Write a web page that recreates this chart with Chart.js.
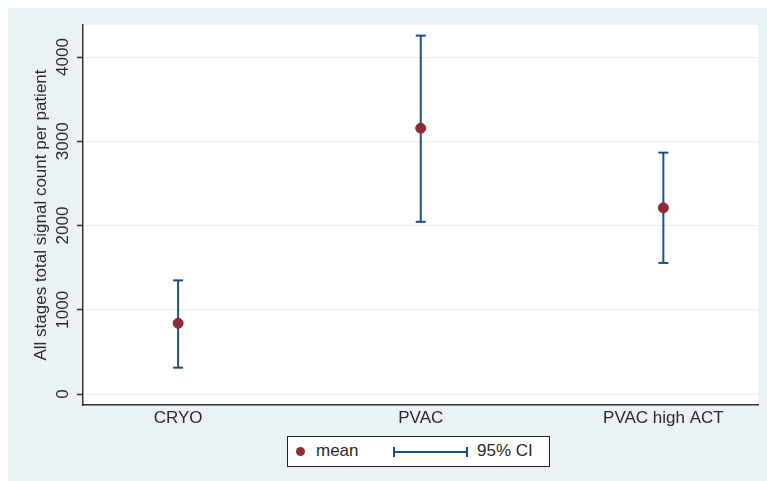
<!DOCTYPE html>
<html>
<head>
<meta charset="utf-8">
<script src="https://cdn.jsdelivr.net/npm/chart.js@4.4.1/dist/chart.umd.min.js"></script>
<style>
  body { margin: 0; background: #fff; font-family: "Liberation Sans", Arial, sans-serif; }
  #wrap { position: absolute; left: 8px; top: 8px; width: 759px; height: 473px; background: #eaf2f3; }
  #legend {
    position: absolute; left: 279px; top: 428px; width: 261px; height: 29px;
    background: #fff; border: 1px solid #222; font-size: 17px; color: #2a2a2a;
  }
  #legend .dot { position: absolute; left: 8px; top: 10px; width: 9px; height: 9px; border-radius: 50%; background: #8f2a36; }
  #legend .lbl { position: absolute; top: 4px; }
  #legend .ci { position: absolute; left: 105px; top: 14px; width: 75px; height: 2px; background: #1c4f80; }
  #legend .ci::before, #legend .ci::after { content: ""; position: absolute; top: -4px; width: 2px; height: 10px; background: #1c4f80; }
  #legend .ci::before { left: 0; }
  #legend .ci::after { right: 0; }
</style>
</head>
<body>
<div id="wrap">
  <canvas id="chart" width="759" height="473"></canvas>
  <div id="legend">
    <span class="dot"></span><span class="lbl" style="left:28px">mean</span>
    <span class="ci"></span><span class="lbl" style="left:189px">95% CI</span>
  </div>
</div>
<script>
const categories = ['CRYO', 'PVAC', 'PVAC high ACT'];
const positions = [1, 2, 3];
const means = [840, 3155, 2210];
const ciLow = [313, 2044, 1556];
const ciHigh = [1349, 4254, 2865];
const yTicks = [0, 1000, 2000, 3000, 4000];

const navy = '#1c4f80';
const maroon = '#8f2a36';
const textColor = '#2a2a2a';
const font = { family: '"Liberation Sans", Arial, sans-serif', size: 17 };

// one small line dataset per CI, caps drawn as 'line' point style
const ciSets = positions.map((x, i) => ({
  type: 'line',
  data: [{ x, y: ciLow[i] }, { x, y: ciHigh[i] }],
  borderColor: navy,
  borderWidth: 2,
  pointStyle: 'line',
  pointRadius: 5,
  pointBorderWidth: 2,
  pointBorderColor: navy,
  fill: false,
}));

const plotBg = {
  id: 'plotBg',
  beforeDraw(chart) {
    const { ctx, chartArea: a } = chart;
    ctx.save();
    ctx.fillStyle = '#ffffff';
    ctx.fillRect(a.left, a.top, a.right - a.left, a.bottom - a.top);
    ctx.restore();
  },
};

// Stata style vertical y tick labels
const verticalTicks = {
  id: 'verticalTicks',
  afterDraw(chart) {
    const { ctx } = chart;
    const scale = chart.scales.y;
    ctx.save();
    ctx.fillStyle = textColor;
    ctx.font = `${font.size}px ${font.family}`;
    ctx.textAlign = 'center';
    ctx.textBaseline = 'middle';
    scale.ticks.forEach(t => {
      const py = scale.getPixelForValue(t.value);
      ctx.save();
      ctx.translate(55, py);
      ctx.rotate(-Math.PI / 2);
      ctx.fillText(String(t.value), 0, 0);
      ctx.restore();
    });
    ctx.restore();
  },
};

new Chart(document.getElementById('chart'), {
  type: 'scatter',
  data: {
    datasets: [
      {
        data: positions.map((x, i) => ({ x, y: means[i] })),
        backgroundColor: maroon,
        borderColor: maroon,
        pointRadius: 5,
        pointHoverRadius: 5,
      },
      ...ciSets,
    ],
  },
  options: {
    responsive: false,
    animation: false,
    layout: { padding: { top: 17, right: 9, left: 0, bottom: 0 } },
    plugins: { legend: { display: false }, tooltip: { enabled: false } },
    scales: {
      x: {
        type: 'linear',
        min: 0.608,
        max: 3.39,
        afterBuildTicks: s => { s.ticks = positions.map(v => ({ value: v })); },
        afterFit: s => { s.height = 76; },
        ticks: {
          color: textColor,
          font,
          padding: 3,
          autoSkip: false,
          maxRotation: 0,
          callback: v => categories[positions.indexOf(v)],
        },
        grid: { display: true, drawOnChartArea: false, drawTicks: false },
        border: { color: '#333', width: 1.5 },
      },
      y: {
        min: -130,
        max: 4380,
        afterBuildTicks: s => { s.ticks = yTicks.map(v => ({ value: v })); },
        afterFit: s => { s.width = 75; },
        ticks: { display: false },
        grid: { color: '#e3eff3', lineWidth: 1, tickLength: 6, tickColor: '#333', tickWidth: 1.5 },
        border: { color: '#333', width: 1.5 },
        title: {
          display: true,
          text: 'All stages total signal count per patient',
          color: textColor,
          font,
          padding: { top: 23, bottom: 0 },
        },
      },
    },
  },
  plugins: [plotBg, verticalTicks],
});
</script>
</body>
</html>
